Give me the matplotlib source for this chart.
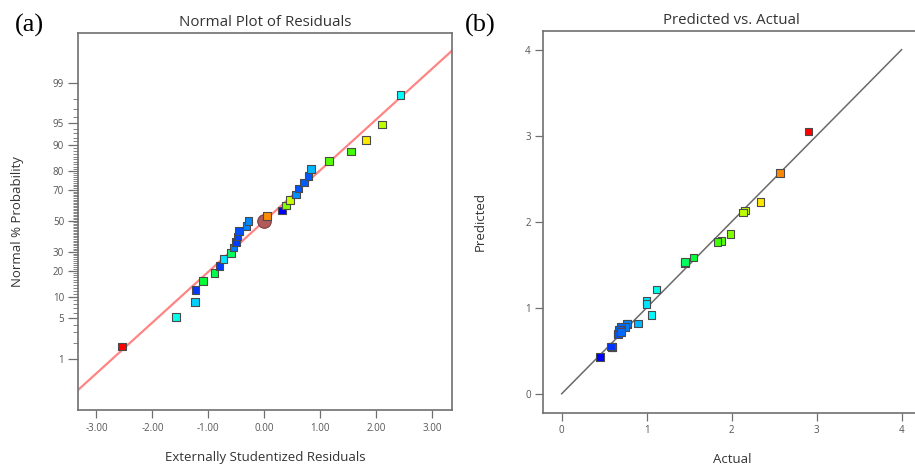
import statistics

import matplotlib
matplotlib.use("Agg")
import matplotlib.pyplot as plt
import numpy as np
from matplotlib.colors import LinearSegmentedColormap, Normalize

plt.rcParams["font.family"] = ["Open Sans", "DejaVu Sans"]

# ── data ──────────────────────────────────────────────────────────────────────
# (a) normal probability plot: residual, probability (%), response used for colour
residuals = [-2.54, -1.58, -1.24, -1.23, -1.095, -0.89, -0.80, -0.73, -0.60, -0.55,
             -0.51, -0.48, -0.457, -0.32, -0.285, 0.048, 0.316, 0.388, 0.459, 0.56,
             0.607, 0.709, 0.786, 0.834, 1.155, 1.55, 1.82, 2.10, 2.43]
prob_pct = [1.7, 5.2, 8.6, 12.1, 15.5, 19.0, 22.4, 25.9, 29.3, 32.8,
            36.2, 39.7, 43.1, 46.6, 50.0, 53.4, 56.9, 60.3, 63.8, 67.2,
            70.7, 74.1, 77.6, 81.0, 84.5, 87.9, 91.4, 94.8, 98.3]
resid_color_val = [2.906, 1.12, 0.95, 0.59, 1.55, 1.50, 0.60, 1.00, 1.45, 0.75,
                   0.60, 0.62, 0.65, 0.77, 0.78, 2.57, 0.45, 1.99, 2.16, 0.80,
                   0.66, 0.68, 0.67, 0.90, 1.88, 1.84, 2.34, 2.13, 1.06]
fit_slope = 0.857          # z-units per residual unit of the reference line

prob_ticks = [1, 5, 10, 20, 30, 50, 70, 80, 90, 95, 99]
resid_ticks = [-3, -2, -1, 0, 1, 2, 3]

# (b) predicted vs actual
actual = [2.906, 2.572, 2.341, 2.156, 2.133, 1.988, 1.882, 1.835, 1.549, 1.454,
          1.45, 1.118, 1.00, 1.00, 1.059, 0.90, 0.776, 0.768, 0.753, 0.70,
          0.686, 0.678, 0.666, 0.66, 0.70, 0.60, 0.59, 0.58, 0.45]
predicted = [3.047, 2.566, 2.226, 2.128, 2.105, 1.857, 1.779, 1.767, 1.586, 1.516,
             1.53, 1.214, 1.078, 1.043, 0.915, 0.818, 0.81, 0.818, 0.779, 0.78,
             0.74, 0.749, 0.702, 0.69, 0.72, 0.547, 0.54, 0.55, 0.427]
pva_ticks = [0, 1, 2, 3, 4]

# ── styling ───────────────────────────────────────────────────────────────────
cmap = LinearSegmentedColormap.from_list(
    "de", ["#0000ff", "#00ffff", "#00ff00", "#ffff00", "#ff0000"])
norm = Normalize(vmin=min(actual), vmax=max(actual))
TXT = "#333333"
TICK = "#555555"
SPINE = "#707070"
nd = statistics.NormalDist()


def z(p):
    return nd.inv_cdf(p / 100.0)


def style_axes(ax):
    for s in ax.spines.values():
        s.set_color(SPINE)
        s.set_linewidth(1.2)
    ax.tick_params(colors=SPINE, labelcolor=TICK, labelsize=7, width=0.9,
                   length=6, pad=3)


fig = plt.figure(figsize=(9.15, 4.68), dpi=100)

# ── (a) normal plot ───────────────────────────────────────────────────────────
ax1 = fig.add_axes([0.0852, 0.1239, 0.4087, 0.8056])
style_axes(ax1)
xl = (-3.33, 3.35)
ax1.set_xlim(*xl)
ax1.set_ylim(-3.19, 3.17)
ax1.plot(xl, [fit_slope * xl[0], fit_slope * xl[1]], color="#ff8585", lw=1.6, zorder=1)
ax1.scatter([0], [0], s=95, color="#b35a5a", edgecolor="#7a4040", lw=0.8, zorder=2)
ax1.scatter(residuals, [z(p) for p in prob_pct], marker="s", s=30,
            c=cmap(norm(np.array(resid_color_val))), edgecolor="#4a4a4a",
            lw=0.8, zorder=3)
ax1.set_yticks([z(p) for p in prob_ticks])
ax1.set_yticklabels([str(p) for p in prob_ticks])
ax1.set_yticks([z(p) for p in range(1, 100)], minor=True)
ax1.tick_params(axis="y", which="minor", length=3.5, width=0.6, colors=SPINE)
ax1.tick_params(axis="y", which="major", length=7)
ax1.set_xticks(resid_ticks)
ax1.set_xticklabels([f"{t:.2f}" for t in resid_ticks])
ax1.set_title("Normal Plot of Residuals", fontsize=10.8, color=TXT, pad=5)
ax1.set_xlabel("Externally Studentized Residuals", fontsize=9.5, color=TXT)
ax1.set_ylabel("Normal % Probability", fontsize=9.5, color=TXT)
ax1.xaxis.set_label_coords(0.5, -0.108)
ax1.yaxis.set_label_coords(-0.143, 0.5)
fig.text(0.016, 0.945, "(a)", family="Liberation Serif", fontsize=19, va="center")

# ── (b) predicted vs actual ───────────────────────────────────────────────────
ax2 = fig.add_axes([0.5938, 0.1182, 0.412, 0.8156])
style_axes(ax2)
lim = (-0.216, 4.22)
ax2.set_xlim(*lim)
ax2.set_ylim(-0.22, 4.217)
ax2.plot([pva_ticks[0], pva_ticks[-1]], [pva_ticks[0], pva_ticks[-1]],
         color="#6a6a6a", lw=1.1, zorder=1)
ax2.scatter(actual, predicted, marker="s", s=30, c=cmap(norm(np.array(actual))),
            edgecolor="#4a4a4a", lw=0.8, zorder=3)
ax2.set_xticks(pva_ticks)
ax2.set_yticks(pva_ticks)
ax2.set_title("Predicted vs. Actual", fontsize=10.8, color=TXT, pad=5)
ax2.set_xlabel("Actual", fontsize=9.5, color=TXT)
ax2.set_ylabel("Predicted", fontsize=9.5, color=TXT)
ax2.xaxis.set_label_coords(0.5, -0.105)
ax2.yaxis.set_label_coords(-0.150, 0.5)
fig.text(0.508, 0.945, "(b)", family="Liberation Serif", fontsize=19, va="center")

fig.savefig("out.png", dpi=100)
